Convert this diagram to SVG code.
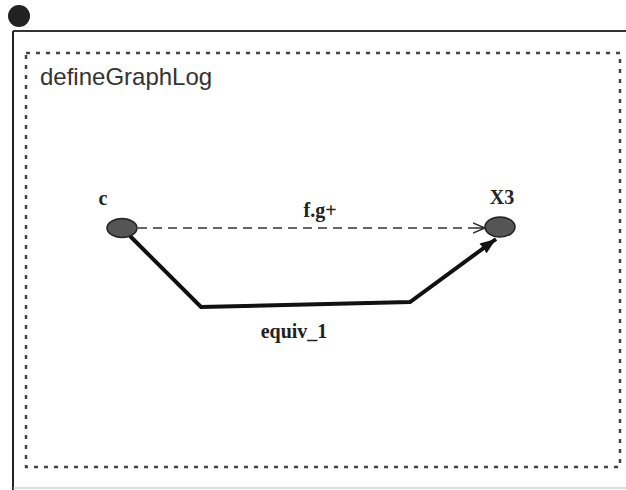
<svg xmlns="http://www.w3.org/2000/svg" width="626" height="490" viewBox="0 0 626 490">
<style>
.lbl{font-family:"Liberation Serif",serif;font-weight:bold;font-size:20px;fill:#222}
.node{fill:#555;stroke:#222;stroke-width:1.5}
</style>
<defs>
<marker id="open" markerWidth="14" markerHeight="12" refX="12" refY="6" orient="auto" markerUnits="userSpaceOnUse">
<path d="M0,1 L12,6 L0,11 M3,6 L12,6" fill="none" stroke="#333" stroke-width="1.5"/>
</marker>
<marker id="fill" markerWidth="18" markerHeight="14" refX="16" refY="7" orient="auto" markerUnits="userSpaceOnUse">
<path d="M0,1 L16,7 L0,13 Z" fill="#111"/>
</marker>
</defs>
<rect width="626" height="490" fill="#fff"/>
<g id="frame">
<line x1="13" y1="31" x2="626" y2="31" stroke="#333" stroke-width="2"/>
<line x1="13" y1="31" x2="13" y2="490" stroke="#222" stroke-width="2"/>
<line x1="13" y1="488" x2="626" y2="488" stroke="#bbb" stroke-width="1"/>
<circle cx="19" cy="16" r="11" fill="#222"/>
<rect x="26" y="53" width="594" height="414" fill="none" stroke="#444" stroke-width="2.5" stroke-dasharray="4,6"/>
<text x="40" y="85" font-family="Liberation Sans,sans-serif" font-size="24" fill="#333">defineGraphLog</text>
</g>
<g id="connectors">
<line x1="138" y1="228" x2="485" y2="228" stroke="#333" stroke-width="1.5" stroke-dasharray="9,6" marker-end="url(#open)"/>
<text class="lbl" x="320" y="217" text-anchor="middle">f.g+</text>
<polyline points="130,236 201,307 410,302 496,239" fill="none" stroke="#111" stroke-width="4" marker-end="url(#fill)"/>
<text class="lbl" x="294" y="338" text-anchor="middle">equiv_1</text>
</g>
<g id="node-c">
<ellipse class="node" cx="122" cy="228" rx="15" ry="9.5"/>
<text class="lbl" x="103" y="205" text-anchor="middle">c</text>
</g>
<g id="node-X3">
<ellipse class="node" cx="500" cy="227" rx="15" ry="10"/>
<text class="lbl" x="502" y="204" text-anchor="middle">X3</text>
</g>
</svg>
